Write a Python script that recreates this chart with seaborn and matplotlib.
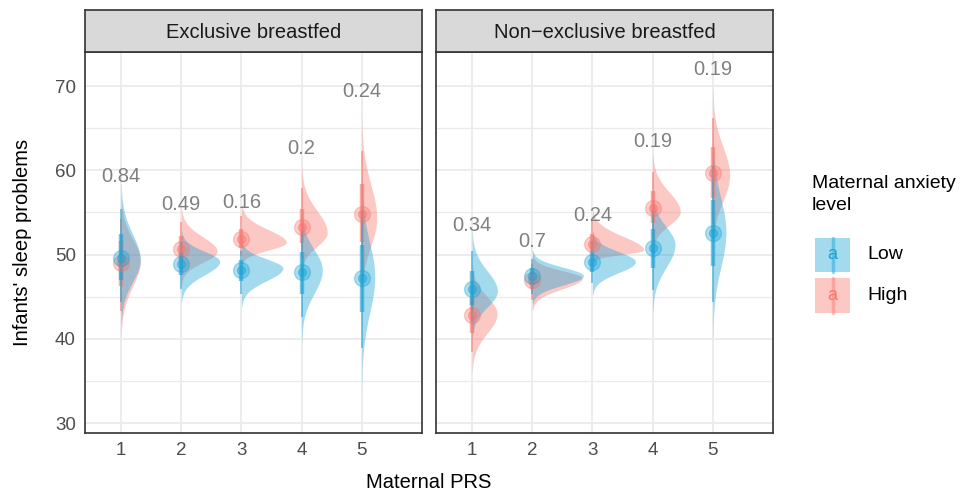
import numpy as np
import pandas as pd
import matplotlib
matplotlib.use("Agg")
import matplotlib.pyplot as plt
import seaborn as sns
from matplotlib.patches import Rectangle
from matplotlib.lines import Line2D

# ---------------- data ----------------
panels = ["Exclusive breastfed", "Non\u2212exclusive breastfed"]
prs_levels = [1, 2, 3, 4, 5]
groups = ["Low", "High"]

# split-normal summaries of each distribution: mode, lower sd, upper sd
excl_low_mode = [49.4, 49.2, 48.4, 48.2, 47.4]
excl_low_sd_lo = [2.6, 1.6, 1.5, 2.8, 4.3]
excl_low_sd_hi = [3.0, 1.2, 1.1, 2.4, 4.0]
excl_high_mode = [49.25, 50.4, 51.45, 52.6, 54.3]
excl_high_sd_lo = [3.0, 1.3, 0.9, 1.6, 3.2]
excl_high_sd_hi = [2.6, 1.7, 1.5, 2.6, 4.0]

non_low_mode = [45.7, 47.5, 49.16, 51.2, 52.7]
non_low_sd_lo = [1.9, 1.1, 1.3, 2.7, 4.2]
non_low_sd_hi = [2.35, 1.0, 1.2, 2.1, 4.0]
non_high_mode = [43.0, 47.2, 50.55, 55.1, 59.4]
non_high_sd_lo = [2.3, 1.25, 0.5, 1.6, 3.0]
non_high_sd_hi = [2.0, 0.9, 1.6, 2.3, 3.4]

excl_p_labels = ["0.84", "0.49", "0.16", "0.2", "0.24"]
excl_p_y = [59.3, 55.9, 56.2, 62.6, 69.3]
non_p_labels = ["0.34", "0.7", "0.24", "0.19", "0.19"]
non_p_y = [53.4, 51.5, 54.7, 63.4, 71.9]

y_ticks = [30, 40, 50, 60, 70]

# ---------------- build tables ----------------
rows = []
for panel, lm, llo, lhi, hm, hlo, hhi in [
    (panels[0], excl_low_mode, excl_low_sd_lo, excl_low_sd_hi,
     excl_high_mode, excl_high_sd_lo, excl_high_sd_hi),
    (panels[1], non_low_mode, non_low_sd_lo, non_low_sd_hi,
     non_high_mode, non_high_sd_lo, non_high_sd_hi)]:
    for i, prs in enumerate(prs_levels):
        rows.append(dict(panel=panel, prs=prs, group="Low", mode=lm[i], slo=llo[i], shi=lhi[i]))
        rows.append(dict(panel=panel, prs=prs, group="High", mode=hm[i], slo=hlo[i], shi=hhi[i]))
dist = pd.DataFrame(rows)


def split_pdf(y, m, slo, shi):
    s = np.where(y < m, slo, shi)
    return 2.0 / (np.sqrt(2 * np.pi) * (slo + shi)) * np.exp(-0.5 * ((y - m) / s) ** 2)


def quantiles(m, slo, shi, qs):
    g = np.linspace(m - 7 * slo, m + 7 * shi, 4000)
    p = split_pdf(g, m, slo, shi)
    c = np.concatenate([[0], np.cumsum((p[1:] + p[:-1]) / 2 * np.diff(g))])
    c /= c[-1]
    return np.interp(qs, c, g)


qs = [0.025, 0.17, 0.5, 0.83, 0.975]
qv = np.array([quantiles(r.mode, r.slo, r.shi, qs) for r in dist.itertuples()])
dist["q025"], dist["q17"], dist["med"], dist["q83"], dist["q975"] = qv.T
dist["peak"] = 2.0 / (np.sqrt(2 * np.pi) * (dist["slo"] + dist["shi"]))
slab_scale = 0.85 / dist["peak"].max()

# ---------------- styling ----------------
sns.set_theme(style="white")
plt.rcParams["font.family"] = ["Liberation Sans", "DejaVu Sans"]

LOW = "#1BA3D6"
HIGH = "#F8766D"
pal = {"Low": LOW, "High": HIGH}
SLAB_ALPHA = 0.4

W, H = 968, 495
fig = plt.figure(figsize=(W / 100, H / 100), dpi=100)


def rect(x0, y0, x1, y1):
    return [x0 / W, 1 - y1 / H, (x1 - x0) / W, (y1 - y0) / H]


panel_px = [(85, 422), (436, 773)]
ptop, pbot = 51.7, 433.3
strip_top = 10

for pi, panel in enumerate(panels):
    x0, x1 = panel_px[pi]
    ax = fig.add_axes(rect(x0, ptop, x1, pbot))
    ax.set_xlim(0.4, 6.0)
    ax.set_ylim(28.81, 74.07)
    ax.set_xticks(prs_levels)
    ax.set_yticks(y_ticks)
    ax.set_yticks([35, 45, 55, 65], minor=True)
    ax.grid(True, which="major", color="#EBEBEB", lw=1.3)
    ax.grid(True, which="minor", axis="y", color="#EBEBEB", lw=0.9)
    ax.set_axisbelow(True)
    for s in ax.spines.values():
        s.set_color("#333333")
        s.set_linewidth(1.2)
    ax.tick_params(axis="both", which="major", length=3.5, width=1.0, color="#333333",
                   labelsize=13.5, labelcolor="#4D4D4D", pad=3)
    ax.tick_params(axis="y", which="minor", length=0)
    if pi == 1:
        ax.tick_params(axis="y", which="major", length=0, labelleft=False)

    sub = dist[dist.panel == panel]
    for grp in ["High", "Low"]:
        col = pal[grp]
        g = sub[sub.group == grp]
        for r in g.itertuples():
            yy = np.linspace(r.mode - 3 * r.slo, r.mode + 3 * r.shi, 400)
            ww = split_pdf(yy, r.mode, r.slo, r.shi) * slab_scale
            ax.fill_betweenx(yy, r.prs, r.prs + ww, color=col, alpha=SLAB_ALPHA, lw=0, zorder=2)
        ax.vlines(g.prs, g.q025, g.q975, color=col, alpha=0.6, lw=1.3, zorder=3)
        ax.vlines(g.prs, g.q17, g.q83, color=col, alpha=0.6, lw=3.2, zorder=3)
        sns.scatterplot(data=g, x="prs", y="med", color=col, s=130, alpha=0.35,
                        edgecolor=col, linewidth=1.0, legend=False, ax=ax, zorder=4)
        sns.scatterplot(data=g, x="prs", y="med", color=col, s=35, alpha=0.45,
                        edgecolor=col, linewidth=0.8, legend=False, ax=ax, zorder=4)
    ax.set_xlabel("")
    ax.set_ylabel("")

    labs = excl_p_labels if pi == 0 else non_p_labels
    ly = excl_p_y if pi == 0 else non_p_y
    for xv, t, yv in zip(prs_levels, labs, ly):
        ax.text(xv, yv, t, ha="center", va="center", fontsize=14.5, color="#808080", zorder=5)

    # strip
    sax = fig.add_axes(rect(x0, strip_top, x1, ptop))
    sax.set_facecolor("#D9D9D9")
    sax.set_xticks([])
    sax.set_yticks([])
    for s in sax.spines.values():
        s.set_color("#333333")
        s.set_linewidth(1.2)
    sax.text(0.5, 0.47, panel, ha="center", va="center", fontsize=14.5,
             color="#1A1A1A", transform=sax.transAxes)

# axis titles
fig.text(429 / W, 1 - 482 / H, "Maternal PRS", ha="center", va="center", fontsize=14.5, color="black")
fig.text(22.5 / W, 1 - 242.5 / H, "Infants' sleep problems", ha="center", va="center",
         rotation=90, fontsize=14.5, color="black")

# legend
fig.text(812 / W, 1 - 175 / H, "Maternal anxiety\nlevel", ha="left", va="top", fontsize=14,
         color="black", linespacing=1.35)
for grp, (ky0, ky1) in zip(groups, [(237.7, 271.7), (278, 313)]):
    col = pal[grp]
    fig.patches.append(Rectangle((815 / W, 1 - ky1 / H), 35 / W, (ky1 - ky0) / H,
                                 transform=fig.transFigure, facecolor=col, alpha=SLAB_ALPHA,
                                 lw=0))
    fig.lines.append(Line2D([832.5 / W, 832.5 / W], [1 - ky1 / H, 1 - ky0 / H],
                            transform=fig.transFigure, color=col, alpha=0.45, lw=2.5))
    fig.text(832.5 / W, 1 - (ky0 + ky1) / 2 / H, "a", ha="center", va="center",
             fontsize=13, color=col)
    fig.text(867 / W, 1 - (ky0 + ky1) / 2 / H, grp, ha="left", va="center", fontsize=14,
             color="black")

fig.savefig("out.png", dpi=100)
